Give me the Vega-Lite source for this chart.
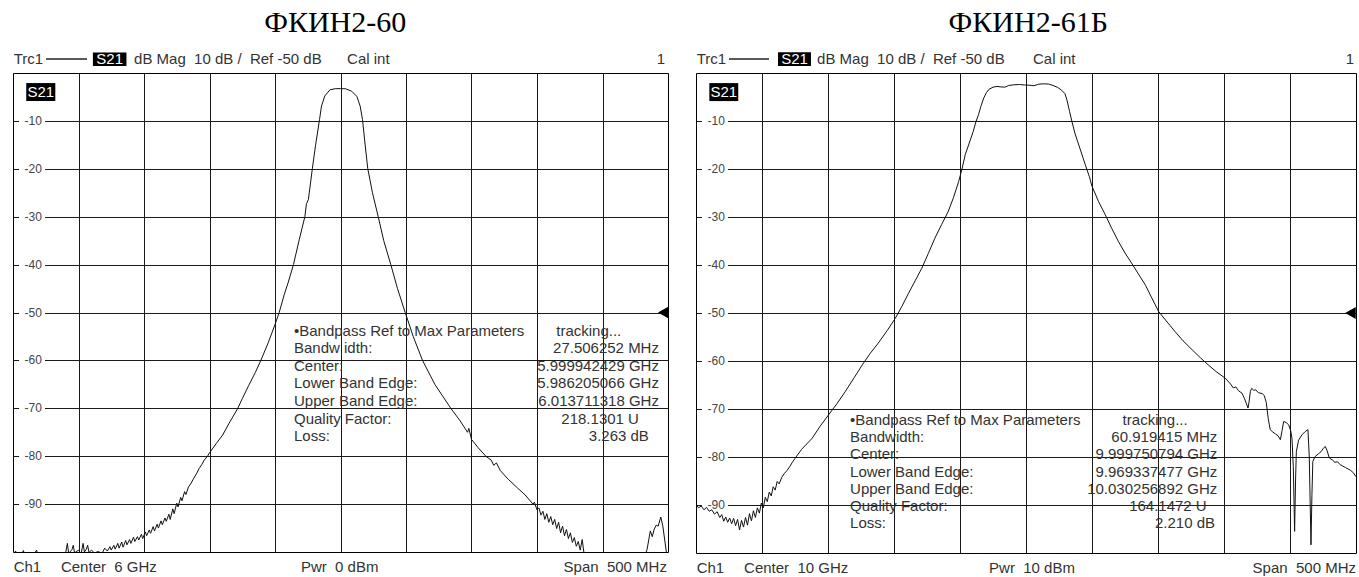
{
  "$schema": "https://vega.github.io/schema/vega-lite/v6.json",
  "autosize": {"type": "pad"},
  "padding": {"left": 12, "top": 7, "right": 0, "bottom": 0},
  "background": "white",
  "bounds": "flush",
  "spacing": 28,
  "config": {
    "view": {"stroke": "#000000", "strokeWidth": 1},
    "axis": {"gridColor": "#1a1a1a", "gridOpacity": 1, "gridWidth": 1}
  },
  "datasets": {
    "tA": [
      {"f":5750,"db":-101},{"f":5752,"db":-99.8},{"f":5754,"db":-101.5},{"f":5758,"db":-99.7},{"f":5760,"db":-102},{"f":5765,"db":-101},{"f":5768,"db":-99.6},{"f":5770,"db":-102},{"f":5778,"db":-101},{"f":5785,"db":-101.5},{"f":5790,"db":-100.5},{"f":5791.5,"db":-98.2},{"f":5792.5,"db":-100.3},{"f":5795,"db":-99.5},{"f":5796,"db":-98.6},{"f":5797,"db":-100.2},{"f":5800,"db":-99.6},{"f":5802,"db":-100.4},{"f":5803.5,"db":-98.2},{"f":5804.5,"db":-100},{"f":5806,"db":-99.4},{"f":5807,"db":-98.6},{"f":5808,"db":-100.1},{"f":5810,"db":-99.6},{"f":5812,"db":-100.2},{"f":5815,"db":-99.9},{"f":5818,"db":-100.3},{"f":5820,"db":-99.2},{"f":5822,"db":-99.8},{"f":5824,"db":-98.9},{"f":5825,"db":-99.6},{"f":5827,"db":-98.6},{"f":5828,"db":-99.4},{"f":5830,"db":-98.2},{"f":5831,"db":-99.2},{"f":5833,"db":-97.9},{"f":5834,"db":-99},{"f":5836,"db":-97.6},{"f":5837,"db":-98.5},{"f":5839,"db":-97.4},{"f":5840,"db":-98.2},{"f":5842,"db":-96.9},{"f":5843,"db":-97.8},{"f":5845,"db":-96.8},{"f":5846,"db":-97.5},{"f":5848,"db":-96.3},{"f":5849,"db":-97.2},{"f":5851,"db":-95.8},{"f":5852,"db":-96.6},{"f":5854,"db":-95.4},{"f":5855,"db":-96.1},{"f":5857,"db":-94.7},{"f":5858,"db":-95.6},{"f":5860,"db":-94.2},{"f":5861,"db":-95},{"f":5863,"db":-93.5},{"f":5864,"db":-94.3},{"f":5866,"db":-92.9},{"f":5867,"db":-93.6},{"f":5869,"db":-92.1},{"f":5870,"db":-93.2},{"f":5872,"db":-91},{"f":5873,"db":-92},{"f":5875,"db":-89.8},{"f":5876,"db":-90.6},{"f":5878,"db":-88.6},{"f":5879,"db":-89.3},{"f":5881,"db":-87.4},{"f":5882,"db":-88},{"f":5884,"db":-86.4},{"f":5886,"db":-85.6},{"f":5888,"db":-84.6},{"f":5890,"db":-83.7},{"f":5892,"db":-82.6},{"f":5894,"db":-81.8},{"f":5896,"db":-80.8},{"f":5898.5,"db":-80},{"f":5900,"db":-79.3},{"f":5905,"db":-77.4},{"f":5910,"db":-75.6},{"f":5915,"db":-73.1},{"f":5921.6,"db":-70},{"f":5925,"db":-68},{"f":5930,"db":-65.2},{"f":5935,"db":-62.5},{"f":5939.2,"db":-60},{"f":5945,"db":-56.2},{"f":5950,"db":-52.5},{"f":5953.2,"db":-50},{"f":5957,"db":-46.3},{"f":5960,"db":-43.8},{"f":5964.1,"db":-40},{"f":5968.5,"db":-34.8},{"f":5972.8,"db":-30},{"f":5974,"db":-27.3},{"f":5975.5,"db":-26.4},{"f":5978.5,"db":-20},{"f":5981,"db":-15},{"f":5984,"db":-9.7},{"f":5985.5,"db":-6.9},{"f":5988,"db":-4.8},{"f":5992,"db":-3.5},{"f":5996,"db":-3.28},{"f":6000,"db":-3.26},{"f":6004,"db":-3.3},{"f":6008.5,"db":-3.8},{"f":6012.5,"db":-4.9},{"f":6015,"db":-6.9},{"f":6016.8,"db":-9.7},{"f":6018.8,"db":-15},{"f":6020.8,"db":-19.9},{"f":6024.4,"db":-25},{"f":6028.8,"db":-30},{"f":6033,"db":-35},{"f":6038.4,"db":-40},{"f":6043.5,"db":-45},{"f":6049.4,"db":-50},{"f":6055.5,"db":-55},{"f":6062.6,"db":-60},{"f":6072,"db":-65},{"f":6084.2,"db":-70},{"f":6091,"db":-72.5},{"f":6097,"db":-75},{"f":6098,"db":-74.2},{"f":6100,"db":-76.5},{"f":6105,"db":-78.2},{"f":6110.9,"db":-80},{"f":6115,"db":-80.8},{"f":6117,"db":-81.9},{"f":6119,"db":-81.4},{"f":6122,"db":-83},{"f":6128,"db":-84.8},{"f":6135,"db":-86.6},{"f":6141,"db":-88.1},{"f":6146.9,"db":-90},{"f":6148,"db":-89.6},{"f":6150,"db":-91.2},{"f":6151.5,"db":-90.8},{"f":6153,"db":-92.3},{"f":6154.5,"db":-91.5},{"f":6156,"db":-93.2},{"f":6157.5,"db":-92},{"f":6159,"db":-93.8},{"f":6160.5,"db":-92.6},{"f":6162,"db":-94.3},{"f":6163.5,"db":-93.2},{"f":6165,"db":-95.1},{"f":6166.5,"db":-93.8},{"f":6168,"db":-96},{"f":6169.5,"db":-94.6},{"f":6171,"db":-96.6},{"f":6172.5,"db":-95.3},{"f":6174,"db":-97.2},{"f":6175.5,"db":-96},{"f":6177,"db":-98},{"f":6178.5,"db":-97},{"f":6180,"db":-98.8},{"f":6181.5,"db":-97.8},{"f":6183,"db":-99.6},{"f":6184.5,"db":-97.4},{"f":6186,"db":-100.5},{"f":6188,"db":-101.5},{"f":6195,"db":-102},{"f":6210,"db":-103},{"f":6225,"db":-102},{"f":6232,"db":-101},{"f":6234,"db":-99.5},{"f":6236.5,"db":-95.6},{"f":6238,"db":-96.8},{"f":6239.5,"db":-95.2},{"f":6241,"db":-94.4},{"f":6242.5,"db":-94.6},{"f":6244.5,"db":-92.7},{"f":6246,"db":-94.5},{"f":6247.5,"db":-97.5},{"f":6249,"db":-100.5},{"f":6250,"db":-102}
    ],
    "tB": [
      {"f":9750,"db":-89.9},{"f":9752,"db":-90.6},{"f":9754,"db":-90.2},{"f":9756,"db":-91},{"f":9758,"db":-90.5},{"f":9760,"db":-91.3},{"f":9762,"db":-91},{"f":9764,"db":-91.9},{"f":9766,"db":-91.4},{"f":9768,"db":-92.6},{"f":9769.5,"db":-92},{"f":9771,"db":-93.4},{"f":9772.5,"db":-92.5},{"f":9774,"db":-93.6},{"f":9775.5,"db":-92.7},{"f":9777,"db":-93.9},{"f":9778.5,"db":-92.8},{"f":9780,"db":-94.3},{"f":9781.5,"db":-93},{"f":9783,"db":-95.2},{"f":9784.5,"db":-93.2},{"f":9786,"db":-94.6},{"f":9787.5,"db":-92.6},{"f":9789,"db":-94.2},{"f":9790.5,"db":-91.8},{"f":9792,"db":-93.3},{"f":9793.5,"db":-91.2},{"f":9795,"db":-92.6},{"f":9796.5,"db":-90.6},{"f":9798,"db":-91.7},{"f":9799.5,"db":-89.6},{"f":9801,"db":-90.6},{"f":9802.5,"db":-88.4},{"f":9804,"db":-89.3},{"f":9805.5,"db":-87.3},{"f":9807,"db":-88.1},{"f":9808.5,"db":-86.2},{"f":9810,"db":-86.9},{"f":9811.5,"db":-85.1},{"f":9813,"db":-85.6},{"f":9815,"db":-84.2},{"f":9817,"db":-83.4},{"f":9819,"db":-82.8},{"f":9821,"db":-82},{"f":9823,"db":-81.1},{"f":9825,"db":-80.3},{"f":9830,"db":-78.4},{"f":9838,"db":-76.1},{"f":9844,"db":-73.6},{"f":9850.5,"db":-71.2},{"f":9857,"db":-68.8},{"f":9863,"db":-66.4},{"f":9870,"db":-63.4},{"f":9876,"db":-60.8},{"f":9882,"db":-58.4},{"f":9888,"db":-56.3},{"f":9895,"db":-53.6},{"f":9901,"db":-51.1},{"f":9906,"db":-48.6},{"f":9911,"db":-45.9},{"f":9916,"db":-43.3},{"f":9921,"db":-40.7},{"f":9926,"db":-37.6},{"f":9931,"db":-34.4},{"f":9936,"db":-31.6},{"f":9941,"db":-28.9},{"f":9945,"db":-26},{"f":9949,"db":-22.6},{"f":9951.5,"db":-20},{"f":9954,"db":-17},{"f":9957,"db":-14.6},{"f":9960,"db":-12.2},{"f":9962,"db":-10.2},{"f":9964,"db":-8.7},{"f":9966,"db":-6.8},{"f":9968,"db":-5.2},{"f":9970,"db":-4.1},{"f":9972,"db":-3.4},{"f":9975,"db":-2.95},{"f":9978,"db":-2.8},{"f":9981,"db":-2.9},{"f":9984,"db":-2.95},{"f":9987,"db":-2.6},{"f":9991,"db":-2.45},{"f":9995,"db":-2.4},{"f":9999,"db":-2.5},{"f":10003,"db":-2.55},{"f":10006,"db":-2.65},{"f":10009.5,"db":-2.35},{"f":10013,"db":-2.25},{"f":10017,"db":-2.3},{"f":10020.5,"db":-2.6},{"f":10024,"db":-3},{"f":10027,"db":-3.6},{"f":10029.5,"db":-4.3},{"f":10031,"db":-5.6},{"f":10033,"db":-8},{"f":10034.8,"db":-10.1},{"f":10037,"db":-12.5},{"f":10040,"db":-15},{"f":10044.9,"db":-19.1},{"f":10048,"db":-21.6},{"f":10050,"db":-23.6},{"f":10055,"db":-26.8},{"f":10060,"db":-29.5},{"f":10065,"db":-32.4},{"f":10070,"db":-35.1},{"f":10075,"db":-37.5},{"f":10080,"db":-39.6},{"f":10085,"db":-41.8},{"f":10090.5,"db":-44.2},{"f":10095,"db":-46.7},{"f":10100.5,"db":-49.7},{"f":10107,"db":-51.9},{"f":10113,"db":-53.9},{"f":10119,"db":-55.8},{"f":10126,"db":-57.7},{"f":10132,"db":-59.3},{"f":10138,"db":-60.8},{"f":10144,"db":-62.2},{"f":10151,"db":-63.6},{"f":10155,"db":-64.8},{"f":10157,"db":-65.6},{"f":10159,"db":-65.4},{"f":10161,"db":-66.2},{"f":10163.6,"db":-66.7},{"f":10165.5,"db":-67.8},{"f":10168.2,"db":-69.8},{"f":10169,"db":-68.5},{"f":10170,"db":-66.3},{"f":10171,"db":-65.7},{"f":10172.5,"db":-66.1},{"f":10174,"db":-66},{"f":10176,"db":-66.6},{"f":10179,"db":-66.8},{"f":10180.5,"db":-67.2},{"f":10182,"db":-68.6},{"f":10183.5,"db":-72},{"f":10185,"db":-74.3},{"f":10187,"db":-74.8},{"f":10189,"db":-75.2},{"f":10191,"db":-75.6},{"f":10192.7,"db":-76.4},{"f":10194,"db":-74.5},{"f":10195.2,"db":-72.6},{"f":10197,"db":-72.8},{"f":10199,"db":-73.3},{"f":10200.5,"db":-74.5},{"f":10201.5,"db":-76.1},{"f":10202.5,"db":-82},{"f":10203.5,"db":-95.5},{"f":10204.2,"db":-85},{"f":10204.8,"db":-78.9},{"f":10206.5,"db":-76.5},{"f":10209,"db":-75.4},{"f":10211.5,"db":-74.7},{"f":10213.6,"db":-74.3},{"f":10214.6,"db":-80},{"f":10215.9,"db":-98.3},{"f":10216.6,"db":-88},{"f":10217.3,"db":-80.9},{"f":10219,"db":-79.9},{"f":10221.7,"db":-79.3},{"f":10223.5,"db":-78.9},{"f":10225,"db":-78.3},{"f":10226.7,"db":-77.8},{"f":10228,"db":-78.6},{"f":10229.8,"db":-80.2},{"f":10232,"db":-80.6},{"f":10234,"db":-81.1},{"f":10236,"db":-81},{"f":10238,"db":-81.6},{"f":10240,"db":-81.9},{"f":10242,"db":-82.2},{"f":10244,"db":-82.5},{"f":10246,"db":-82.8},{"f":10248,"db":-83.3},{"f":10250,"db":-84.1}
    ],
    "bA": [
      {"kind":"bg","f":5754.6,"f2":5774.4,"db":-8.6,"db2":-11.4},
      {"kind":"bg","f":5754.6,"f2":5774.4,"db":-18.6,"db2":-21.4},
      {"kind":"bg","f":5754.6,"f2":5774.4,"db":-28.6,"db2":-31.4},
      {"kind":"bg","f":5754.6,"f2":5774.4,"db":-38.6,"db2":-41.4},
      {"kind":"bg","f":5754.6,"f2":5774.4,"db":-48.6,"db2":-51.4},
      {"kind":"bg","f":5754.6,"f2":5774.4,"db":-58.6,"db2":-61.4},
      {"kind":"bg","f":5754.6,"f2":5774.4,"db":-68.6,"db2":-71.4},
      {"kind":"bg","f":5754.6,"f2":5774.4,"db":-78.6,"db2":-81.4},
      {"kind":"bg","f":5754.6,"f2":5774.4,"db":-88.6,"db2":-91.4},
      {"kind":"badge","f":5760.1,"f2":5782.3,"db":-2.1,"db2":-5.85},
      {"kind":"badge","f":5811,"f2":5836.6,"db":4.3,"db2":1.45}
    ],
    "bB": [
      {"kind":"bg","f":9754.5,"f2":9774.2,"db":-8.6,"db2":-11.4},
      {"kind":"bg","f":9754.5,"f2":9774.2,"db":-18.6,"db2":-21.4},
      {"kind":"bg","f":9754.5,"f2":9774.2,"db":-28.6,"db2":-31.4},
      {"kind":"bg","f":9754.5,"f2":9774.2,"db":-38.6,"db2":-41.4},
      {"kind":"bg","f":9754.5,"f2":9774.2,"db":-48.6,"db2":-51.4},
      {"kind":"bg","f":9754.5,"f2":9774.2,"db":-58.6,"db2":-61.4},
      {"kind":"bg","f":9754.5,"f2":9774.2,"db":-68.6,"db2":-71.4},
      {"kind":"bg","f":9754.5,"f2":9774.2,"db":-78.6,"db2":-81.4},
      {"kind":"bg","f":9754.5,"f2":9774.2,"db":-88.6,"db2":-91.4},
      {"kind":"badge","f":9760.1,"f2":9782,"db":-2.1,"db2":-5.85},
      {"kind":"badge","f":9812.1,"f2":9837.1,"db":4.3,"db2":1.45}
    ],
    "xA": [
      {"kind":"ylab","f":5758.8,"db":-10,"t":"-10"},
      {"kind":"ylab","f":5758.8,"db":-20,"t":"-20"},
      {"kind":"ylab","f":5758.8,"db":-30,"t":"-30"},
      {"kind":"ylab","f":5758.8,"db":-40,"t":"-40"},
      {"kind":"ylab","f":5758.8,"db":-50,"t":"-50"},
      {"kind":"ylab","f":5758.8,"db":-60,"t":"-60"},
      {"kind":"ylab","f":5758.8,"db":-70,"t":"-70"},
      {"kind":"ylab","f":5758.8,"db":-80,"t":"-80"},
      {"kind":"ylab","f":5758.8,"db":-90,"t":"-90"},
      {"kind":"ro","f":5964.5,"db":-53.8,"t":"•Bandpass Ref to Max Parameters"},
      {"kind":"ro","f":5964.5,"db":-57.5,"t":"Bandw idth:"},
      {"kind":"ro","f":5964.5,"db":-61.2,"t":"Center:"},
      {"kind":"ro","f":5964.5,"db":-64.8,"t":"Lower Band Edge:"},
      {"kind":"ro","f":5964.5,"db":-68.5,"t":"Upper Band Edge:"},
      {"kind":"ro","f":5964.5,"db":-72.2,"t":"Quality Factor:"},
      {"kind":"ro","f":5964.5,"db":-75.8,"t":"Loss:"},
      {"kind":"ro","f":6164.7,"db":-53.8,"t":"tracking..."},
      {"kind":"rv","f":6243.1,"db":-57.5,"t":"27.506252 MHz"},
      {"kind":"rv","f":6243.1,"db":-61.2,"t":"5.999942429 GHz"},
      {"kind":"rv","f":6243.1,"db":-64.8,"t":"5.986205066 GHz"},
      {"kind":"rv","f":6243.1,"db":-68.5,"t":"6.013711318 GHz"},
      {"kind":"rv","f":6227.8,"db":-72.2,"t":"218.1301 U"},
      {"kind":"rv","f":6235.4,"db":-75.8,"t":"3.263 dB"},
      {"kind":"hl","f":5750.5,"db":2.9,"t":"Trc1"},
      {"kind":"hl","f":5842.4,"db":2.9,"t":"dB Mag\u00a0\u00a010 dB /\u00a0\u00a0Ref -50 dB"},
      {"kind":"hl","f":6005,"db":2.9,"t":"Cal int"},
      {"kind":"hr","f":6247.7,"db":2.9,"t":"1"},
      {"kind":"hl","f":5750.5,"db":-103.2,"t":"Ch1"},
      {"kind":"hl","f":5786.6,"db":-103.2,"t":"Center\u00a0\u00a06 GHz"},
      {"kind":"hl","f":5969.8,"db":-103.2,"t":"Pwr\u00a0\u00a00 dBm"},
      {"kind":"hr","f":6249.2,"db":-103.2,"t":"Span\u00a0\u00a0500 MHz"},
      {"kind":"badge","f":5771.2,"db":-4,"t":"S21"},
      {"kind":"badge","f":5823.8,"db":2.9,"t":"S21"},
      {"kind":"title","f":5996,"db":10.4,"t":"ФКИН2-60"}
    ],
    "xB": [
      {"kind":"ylab","f":9758.7,"db":-10,"t":"-10"},
      {"kind":"ylab","f":9758.7,"db":-20,"t":"-20"},
      {"kind":"ylab","f":9758.7,"db":-30,"t":"-30"},
      {"kind":"ylab","f":9758.7,"db":-40,"t":"-40"},
      {"kind":"ylab","f":9758.7,"db":-50,"t":"-50"},
      {"kind":"ylab","f":9758.7,"db":-60,"t":"-60"},
      {"kind":"ylab","f":9758.7,"db":-70,"t":"-70"},
      {"kind":"ylab","f":9758.7,"db":-80,"t":"-80"},
      {"kind":"ylab","f":9758.7,"db":-90,"t":"-90"},
      {"kind":"ro","f":9866.7,"db":-72.25,"t":"•Bandpass Ref to Max Parameters"},
      {"kind":"ro","f":9866.7,"db":-75.85,"t":"Bandwidth:"},
      {"kind":"ro","f":9866.7,"db":-79.45,"t":"Center:"},
      {"kind":"ro","f":9866.7,"db":-83.05,"t":"Lower Band Edge:"},
      {"kind":"ro","f":9866.7,"db":-86.65,"t":"Upper Band Edge:"},
      {"kind":"ro","f":9866.7,"db":-90.25,"t":"Quality Factor:"},
      {"kind":"ro","f":9866.7,"db":-93.85,"t":"Loss:"},
      {"kind":"ro","f":10073.2,"db":-72.25,"t":"tracking..."},
      {"kind":"rv","f":10144.9,"db":-75.85,"t":"60.919415 MHz"},
      {"kind":"rv","f":10144.9,"db":-79.45,"t":"9.999750794 GHz"},
      {"kind":"rv","f":10144.9,"db":-83.05,"t":"9.969337477 GHz"},
      {"kind":"rv","f":10144.9,"db":-86.65,"t":"10.030256892 GHz"},
      {"kind":"rv","f":10136.9,"db":-90.25,"t":"164.1472 U"},
      {"kind":"rv","f":10143.2,"db":-93.85,"t":"2.210 dB"},
      {"kind":"hl","f":9750.5,"db":2.9,"t":"Trc1"},
      {"kind":"hl","f":9841.7,"db":2.9,"t":"dB Mag\u00a0\u00a010 dB /\u00a0\u00a0Ref -50 dB"},
      {"kind":"hl","f":10005.3,"db":2.9,"t":"Cal int"},
      {"kind":"hr","f":10248.5,"db":2.9,"t":"1"},
      {"kind":"hl","f":9750.5,"db":-103.2,"t":"Ch1"},
      {"kind":"hl","f":9786.4,"db":-103.2,"t":"Center\u00a0\u00a010 GHz"},
      {"kind":"hl","f":9972,"db":-103.2,"t":"Pwr\u00a0\u00a010 dBm"},
      {"kind":"hr","f":10250,"db":-103.2,"t":"Span\u00a0\u00a0500 MHz"},
      {"kind":"badge","f":9771,"db":-4,"t":"S21"},
      {"kind":"badge","f":9824.6,"db":2.9,"t":"S21"},
      {"kind":"title","f":10001.7,"db":10.4,"t":"ФКИН2-61Б"}
    ],
    "rA": [{"f":5775.2,"f2":5806.5,"db":2.9}],
    "rB": [{"f":9775,"f2":9805.3,"db":2.9}],
    "mA": [{"f":6246.4,"db":-50}],
    "mB": [{"f":10245.8,"db":-50}]
  },
  "hconcat": [
    {
      "width": 655,
      "height": 479,
      "encoding": {
        "x": {"field": "f", "type": "quantitative", "scale": {"domain": [5750, 6250], "nice": false, "zero": false},
              "axis": {"values": [5800,5850,5900,5950,6000,6050,6100,6150,6200], "grid": true, "labels": false, "ticks": false, "domain": false, "title": null}},
        "y": {"field": "db", "type": "quantitative", "scale": {"domain": [-100, 0], "nice": false, "zero": false},
              "axis": {"values": [-90,-80,-70,-60,-50,-40,-30,-20,-10], "grid": true, "labels": false, "ticks": false, "domain": false, "title": null}}
      },
      "layer": [
        {"data": {"name": "bA"}, "transform": [{"filter": "datum.kind == 'bg'"}],
         "mark": {"type": "rect", "color": "#ffffff"},
         "encoding": {"x2": {"field": "f2"}, "y2": {"field": "db2"}}},
        {"data": {"name": "xA"}, "transform": [{"filter": "datum.kind == 'ylab'"}],
         "mark": {"type": "text", "align": "left", "baseline": "middle", "font": "Liberation Sans", "fontSize": 12, "color": "#444444"},
         "encoding": {"text": {"field": "t"}}},
        {"data": {"name": "tA"}, "mark": {"type": "line", "clip": true, "color": "#111111", "strokeWidth": 1}},
        {"data": {"name": "xA"}, "transform": [{"filter": "datum.kind == 'ro'"}],
         "mark": {"type": "text", "align": "left", "baseline": "middle", "font": "Liberation Sans", "fontSize": 15, "color": "#333333"},
         "encoding": {"text": {"field": "t"}}},
        {"data": {"name": "xA"}, "transform": [{"filter": "datum.kind == 'rv'"}],
         "mark": {"type": "text", "align": "right", "baseline": "middle", "font": "Liberation Sans", "fontSize": 15, "color": "#333333"},
         "encoding": {"text": {"field": "t"}}},
        {"data": {"name": "bA"}, "transform": [{"filter": "datum.kind == 'badge'"}],
         "mark": {"type": "rect", "color": "#000000"},
         "encoding": {"x2": {"field": "f2"}, "y2": {"field": "db2"}}},
        {"data": {"name": "xA"}, "transform": [{"filter": "datum.kind == 'badge'"}],
         "mark": {"type": "text", "align": "center", "baseline": "middle", "font": "Liberation Sans", "fontSize": 15, "color": "#ffffff"},
         "encoding": {"text": {"field": "t"}}},
        {"data": {"name": "xA"}, "transform": [{"filter": "datum.kind == 'hl'"}],
         "mark": {"type": "text", "align": "left", "baseline": "middle", "font": "Liberation Sans", "fontSize": 15, "color": "#333333"},
         "encoding": {"text": {"field": "t"}}},
        {"data": {"name": "xA"}, "transform": [{"filter": "datum.kind == 'hr'"}],
         "mark": {"type": "text", "align": "right", "baseline": "middle", "font": "Liberation Sans", "fontSize": 15, "color": "#333333"},
         "encoding": {"text": {"field": "t"}}},
        {"data": {"name": "xA"}, "transform": [{"filter": "datum.kind == 'title'"}],
         "mark": {"type": "text", "align": "center", "baseline": "middle", "font": "Liberation Serif", "fontSize": 30, "color": "#000000"},
         "encoding": {"text": {"field": "t"}}},
        {"data": {"name": "rA"}, "mark": {"type": "rule", "color": "#222222", "strokeWidth": 1.5},
         "encoding": {"x2": {"field": "f2"}}},
        {"data": {"name": "mA"}, "mark": {"type": "point", "shape": "triangle-left", "filled": true, "color": "#000000", "size": 150, "opacity": 1}}
      ]
    },
    {
      "width": 660,
      "height": 480,
      "encoding": {
        "x": {"field": "f", "type": "quantitative", "scale": {"domain": [9750, 10250], "nice": false, "zero": false},
              "axis": {"values": [9800,9850,9900,9950,10000,10050,10100,10150,10200], "grid": true, "labels": false, "ticks": false, "domain": false, "title": null}},
        "y": {"field": "db", "type": "quantitative", "scale": {"domain": [-100, 0], "nice": false, "zero": false},
              "axis": {"values": [-90,-80,-70,-60,-50,-40,-30,-20,-10], "grid": true, "labels": false, "ticks": false, "domain": false, "title": null}}
      },
      "layer": [
        {"data": {"name": "bB"}, "transform": [{"filter": "datum.kind == 'bg'"}],
         "mark": {"type": "rect", "color": "#ffffff"},
         "encoding": {"x2": {"field": "f2"}, "y2": {"field": "db2"}}},
        {"data": {"name": "xB"}, "transform": [{"filter": "datum.kind == 'ylab'"}],
         "mark": {"type": "text", "align": "left", "baseline": "middle", "font": "Liberation Sans", "fontSize": 12, "color": "#444444"},
         "encoding": {"text": {"field": "t"}}},
        {"data": {"name": "tB"}, "mark": {"type": "line", "clip": true, "color": "#111111", "strokeWidth": 1}},
        {"data": {"name": "xB"}, "transform": [{"filter": "datum.kind == 'ro'"}],
         "mark": {"type": "text", "align": "left", "baseline": "middle", "font": "Liberation Sans", "fontSize": 15, "color": "#333333"},
         "encoding": {"text": {"field": "t"}}},
        {"data": {"name": "xB"}, "transform": [{"filter": "datum.kind == 'rv'"}],
         "mark": {"type": "text", "align": "right", "baseline": "middle", "font": "Liberation Sans", "fontSize": 15, "color": "#333333"},
         "encoding": {"text": {"field": "t"}}},
        {"data": {"name": "bB"}, "transform": [{"filter": "datum.kind == 'badge'"}],
         "mark": {"type": "rect", "color": "#000000"},
         "encoding": {"x2": {"field": "f2"}, "y2": {"field": "db2"}}},
        {"data": {"name": "xB"}, "transform": [{"filter": "datum.kind == 'badge'"}],
         "mark": {"type": "text", "align": "center", "baseline": "middle", "font": "Liberation Sans", "fontSize": 15, "color": "#ffffff"},
         "encoding": {"text": {"field": "t"}}},
        {"data": {"name": "xB"}, "transform": [{"filter": "datum.kind == 'hl'"}],
         "mark": {"type": "text", "align": "left", "baseline": "middle", "font": "Liberation Sans", "fontSize": 15, "color": "#333333"},
         "encoding": {"text": {"field": "t"}}},
        {"data": {"name": "xB"}, "transform": [{"filter": "datum.kind == 'hr'"}],
         "mark": {"type": "text", "align": "right", "baseline": "middle", "font": "Liberation Sans", "fontSize": 15, "color": "#333333"},
         "encoding": {"text": {"field": "t"}}},
        {"data": {"name": "xB"}, "transform": [{"filter": "datum.kind == 'title'"}],
         "mark": {"type": "text", "align": "center", "baseline": "middle", "font": "Liberation Serif", "fontSize": 30, "color": "#000000"},
         "encoding": {"text": {"field": "t"}}},
        {"data": {"name": "rB"}, "mark": {"type": "rule", "color": "#222222", "strokeWidth": 1.5},
         "encoding": {"x2": {"field": "f2"}}},
        {"data": {"name": "mB"}, "mark": {"type": "point", "shape": "triangle-left", "filled": true, "color": "#000000", "size": 150, "opacity": 1}}
      ]
    }
  ]
}
